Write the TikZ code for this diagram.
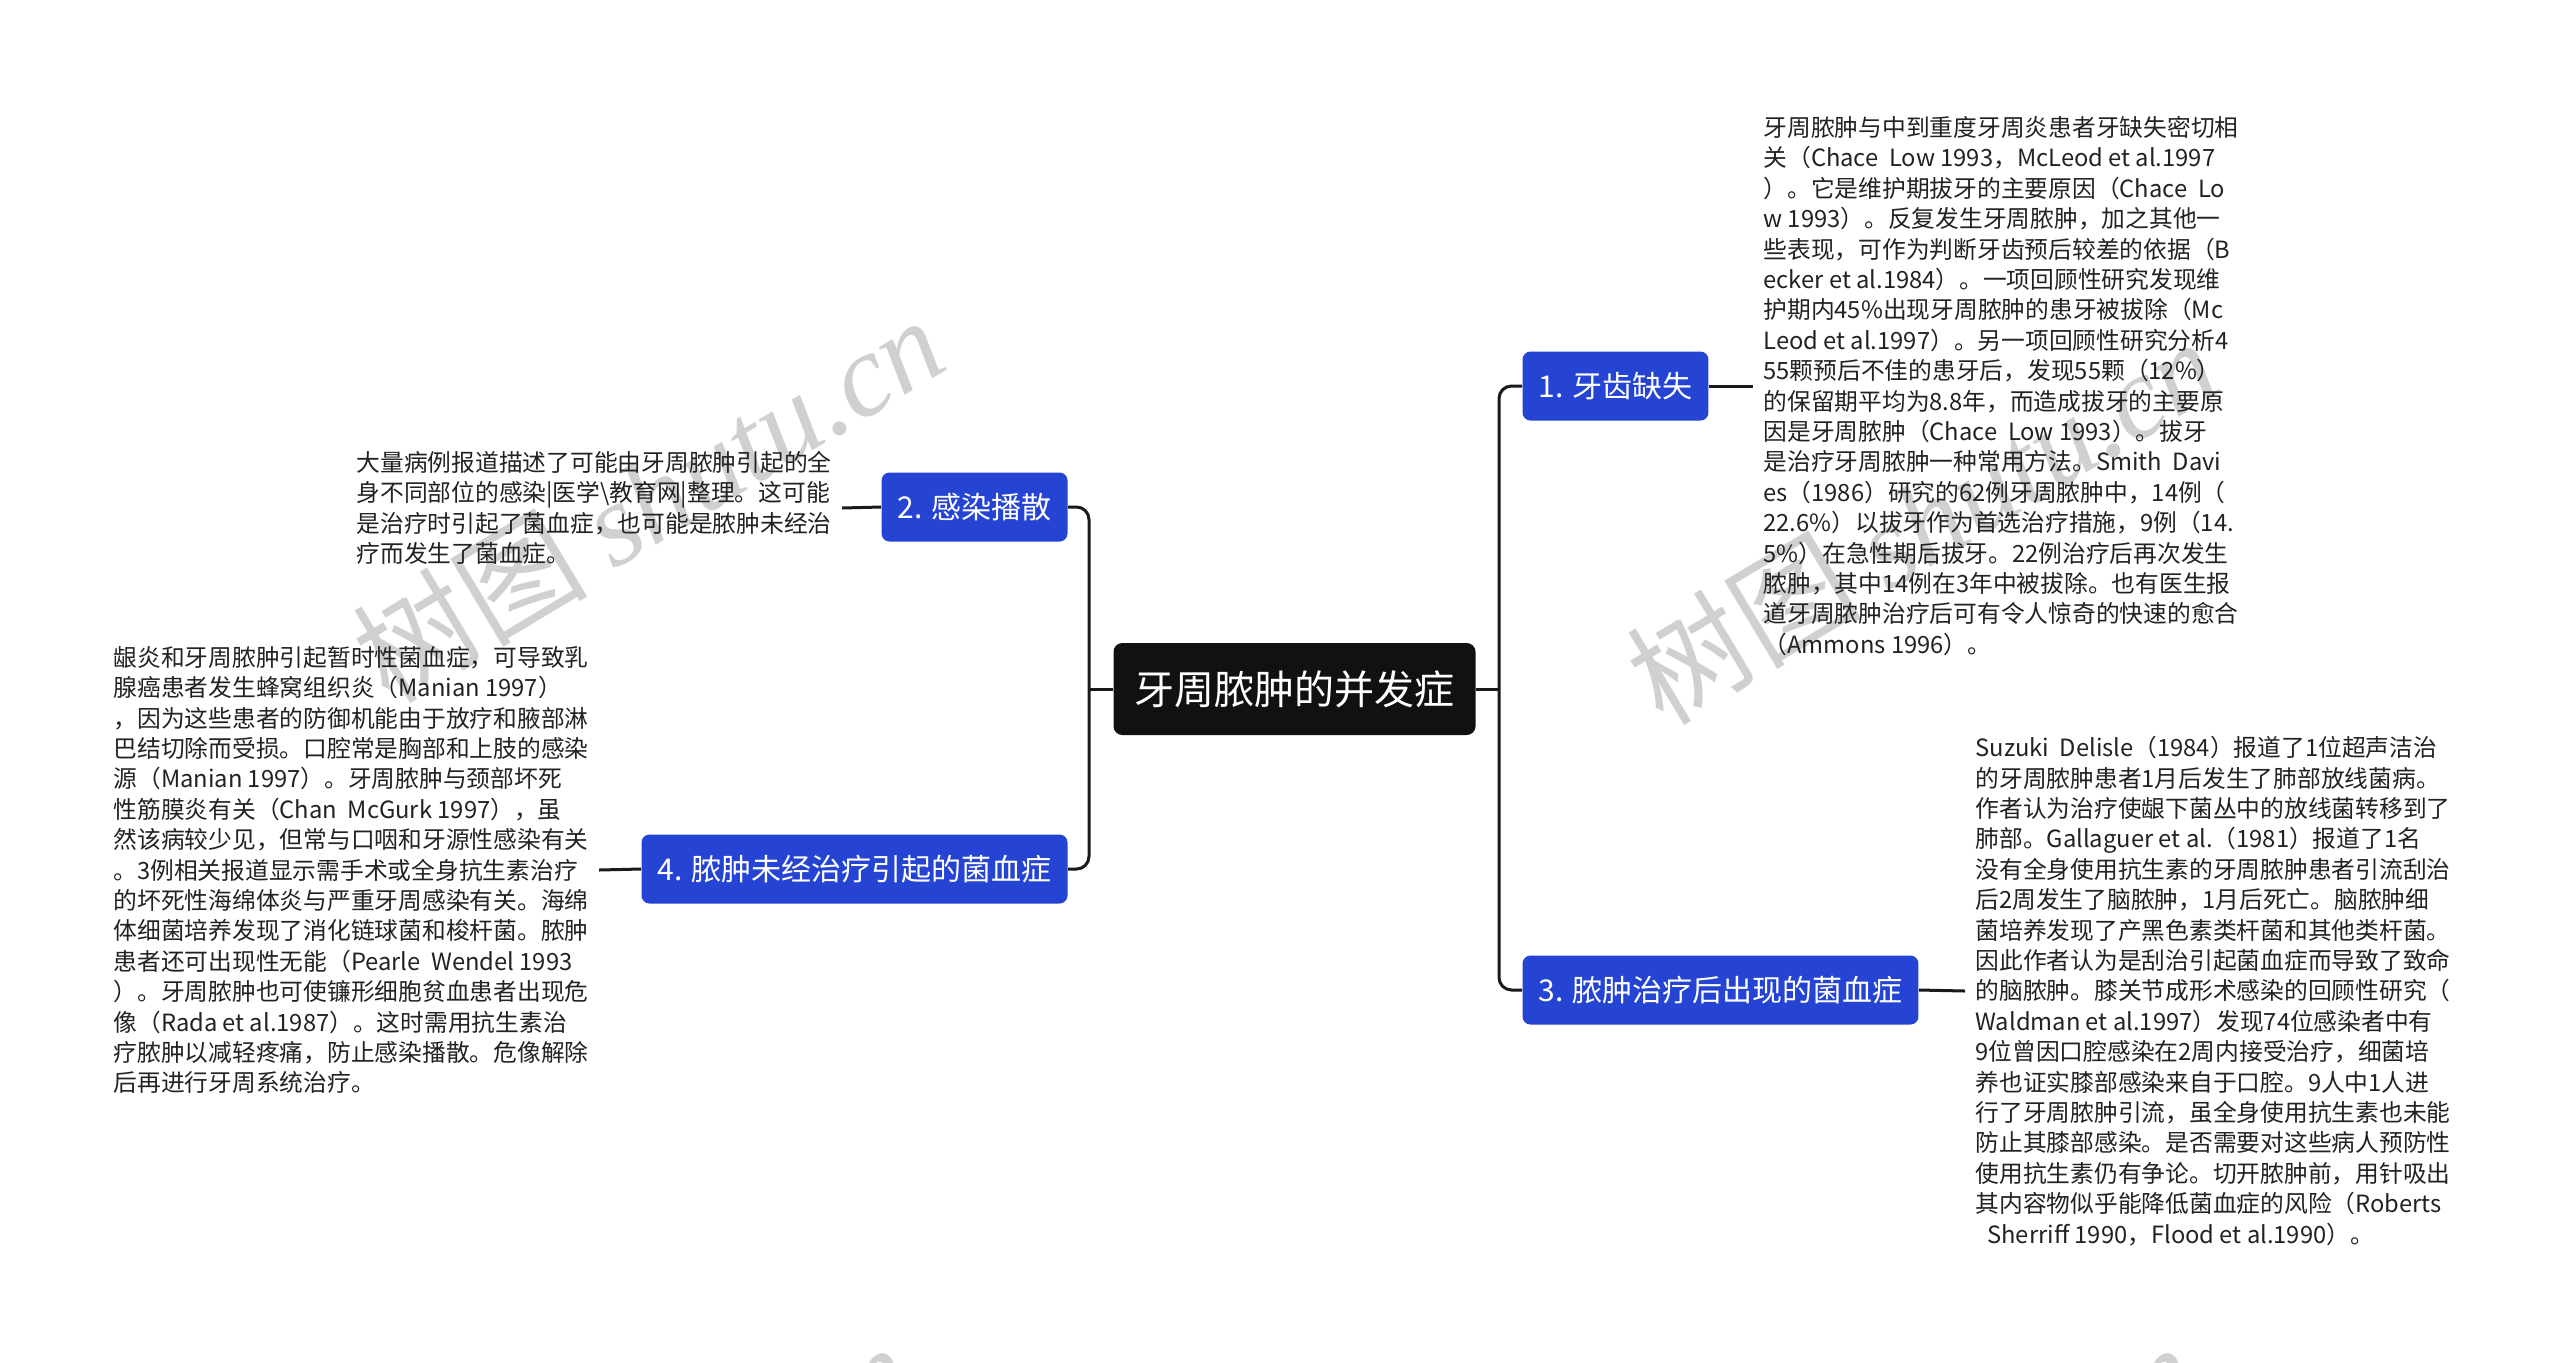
\documentclass[tikz,border=0pt]{standalone}
\usepackage{fontspec}
\setmainfont{Noto Sans CJK SC}
\newfontfamily\wmserif{Liberation Serif}
\definecolor{nodeblue}{RGB}{37,68,212}
\definecolor{rootblack}{RGB}{17,17,17}
\definecolor{linecol}{RGB}{26,26,26}
\definecolor{wmgray}{RGB}{208,208,208}
\definecolor{notetext}{RGB}{34,34,34}
\begin{document}
\begin{tikzpicture}[x=0.4pt,y=-0.4pt,
  conn/.style={draw=linecol,line width=1.2pt},
  rootbox/.style={fill=rootblack,text=white,rounded corners=3.5pt,font=\fontsize{16pt}{19pt}\selectfont,inner xsep=8.4pt,inner ysep=0pt,minimum height=36.8pt},
  branch/.style={fill=nodeblue,text=white,rounded corners=3.2pt,font=\fontsize{12pt}{14pt}\selectfont,inner xsep=6.4pt,inner ysep=0pt,minimum height=27.6pt},
  note/.style={align=left,text=notetext,font=\fontsize{9.5pt}{12.16pt}\selectfont,inner xsep=4pt,inner ysep=0pt},
  wm/.style={text=wmgray,rotate=31,font=\fontsize{47pt}{52pt}\selectfont,inner sep=0pt}]
\useasboundingbox (0,0) rectangle (2560,1362);
\fill[white] (0,0) rectangle (2560,1362);
% watermarks
\begin{scope}
\clip (0,0) rectangle (2560,1362);
\node[wm] (wm1) at (648,498) {树图 {\wmserif\itshape shutu.cn}};
\node[wm] (wm2) at (1922,520) {树图 {\wmserif\itshape shutu.cn}};
\node[wm] (wm3) at (616,1525) {树图 {\wmserif\itshape shutu.cn}};
\node[wm] (wm4) at (1901,1525) {树图 {\wmserif\itshape shutu.cn}};
\end{scope}
% nodes
\node[rootbox] (root) at (1294.5,689) {牙周脓肿的并发症};
\node[branch,anchor=west] (n1) at (1522,386) {1. 牙齿缺失};
\node[branch,anchor=west] (n3) at (1522,990) {3. 脓肿治疗后出现的菌血症};
\node[branch,anchor=east] (n2) at (1068,507) {2. 感染播散};
\node[branch,anchor=east] (n4) at (1068,869) {4. 脓肿未经治疗引起的菌血症};
\coordinate (rj) at (1499,689);
\coordinate (lj) at (1089,689);
% notes
\node[note,anchor=west] (t1) at (1753,386) {牙周脓肿与中到重度牙周炎患者牙缺失密切相\\
关（Chace\ \ Low 1993，McLeod et al.1997\\
）。它是维护期拔牙的主要原因（Chace\ \ Lo\\
w 1993）。反复发生牙周脓肿，加之其他一\\
些表现，可作为判断牙齿预后较差的依据（B\\
ecker et al.1984）。一项回顾性研究发现维\\
护期内45\%出现牙周脓肿的患牙被拔除（Mc\\
Leod et al.1997）。另一项回顾性研究分析4\\
55颗预后不佳的患牙后，发现55颗（12\%）\\
的保留期平均为8.8年，而造成拔牙的主要原\\
因是牙周脓肿（Chace\ \ Low 1993）。拔牙\\
是治疗牙周脓肿一种常用方法。Smith\ \ Davi\\
es（1986）研究的62例牙周脓肿中，14例（\\
22.6\%）以拔牙作为首选治疗措施，9例（14.\\
5\%）在急性期后拔牙。22例治疗后再次发生\\
脓肿，其中14例在3年中被拔除。也有医生报\\
道牙周脓肿治疗后可有令人惊奇的快速的愈合\\
（Ammons 1996）。};
\node[note,anchor=west] (t3) at (1965,991) {Suzuki\ \ Delisle（1984）报道了1位超声洁治\\
的牙周脓肿患者1月后发生了肺部放线菌病。\\
作者认为治疗使龈下菌丛中的放线菌转移到了\\
肺部。Gallaguer et al.（1981）报道了1名\\
没有全身使用抗生素的牙周脓肿患者引流刮治\\
后2周发生了脑脓肿，1月后死亡。脑脓肿细\\
菌培养发现了产黑色素类杆菌和其他类杆菌。\\
因此作者认为是刮治引起菌血症而导致了致命\\
的脑脓肿。膝关节成形术感染的回顾性研究（\\
Waldman et al.1997）发现74位感染者中有\\
9位曾因口腔感染在2周内接受治疗，细菌培\\
养也证实膝部感染来自于口腔。9人中1人进\\
行了牙周脓肿引流，虽全身使用抗生素也未能\\
防止其膝部感染。是否需要对这些病人预防性\\
使用抗生素仍有争论。切开脓肿前，用针吸出\\
其内容物似乎能降低菌血症的风险（Roberts\\
\hspace*{0.5em}Sherriff 1990，Flood et al.1990）。};
\node[note,anchor=west] (t2) at (346,508) {大量病例报道描述了可能由牙周脓肿引起的全\\
身不同部位的感染|医学\textbackslash 教育网|整理。这可能\\
是治疗时引起了菌血症，也可能是脓肿未经治\\
疗而发生了菌血症。};
\node[note,anchor=west] (t4) at (103,870) {龈炎和牙周脓肿引起暂时性菌血症，可导致乳\\
腺癌患者发生蜂窝组织炎（Manian 1997）\\
，因为这些患者的防御机能由于放疗和腋部淋\\
巴结切除而受损。口腔常是胸部和上肢的感染\\
源（Manian 1997）。牙周脓肿与颈部坏死\\
性筋膜炎有关（Chan\ \ McGurk 1997），虽\\
然该病较少见，但常与口咽和牙源性感染有关\\
。3例相关报道显示需手术或全身抗生素治疗\\
的坏死性海绵体炎与严重牙周感染有关。海绵\\
体细菌培养发现了消化链球菌和梭杆菌。脓肿\\
患者还可出现性无能（Pearle\ \ Wendel 1993\\
）。牙周脓肿也可使镰形细胞贫血患者出现危\\
像（Rada et al.1987）。这时需用抗生素治\\
疗脓肿以减轻疼痛，防止感染播散。危像解除\\
后再进行牙周系统治疗。};
% connectors
\draw[conn] (root.east) -- (rj);
\draw[conn,rounded corners=5pt] (rj) |- (n1.west);
\draw[conn,rounded corners=5pt] (rj) |- (n3.west);
\draw[conn] (root.west) -- (lj);
\draw[conn,rounded corners=5pt] (lj) |- (n2.east);
\draw[conn,rounded corners=5pt] (lj) |- (n4.east);
\draw[conn] (n1.east) -- (t1.west);
\draw[conn] (n3.east) -- (t3.west);
\draw[conn] (n2.west) -- (t2.east);
\draw[conn] (n4.west) -- (t4.east);
\end{tikzpicture}
\end{document}
